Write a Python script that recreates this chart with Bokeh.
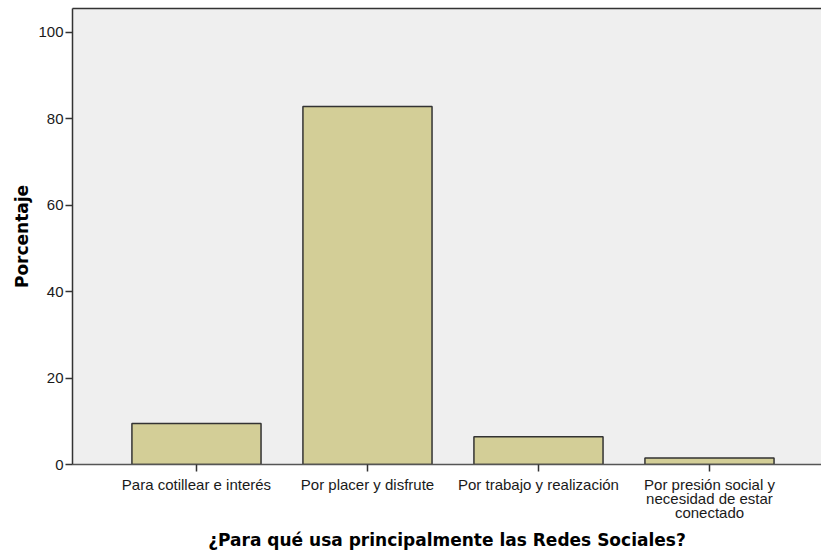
import numpy as np
from bokeh.plotting import figure
from bokeh.models import Range1d, FixedTicker, ColumnDataSource, LinearAxis
from bokeh.embed import file_html
from bokeh.resources import INLINE

categories = ["Para cotillear e interés", "Por placer y disfrute",
              "Por trabajo y realización",
              "Por presión social y\nnecesidad de estar\nconectado"]
porcentaje = [9.5, 82.8, 6.4, 1.5]
y_ticks = [0, 20, 40, 60, 80, 100]

x_pos = list(range(len(categories)))
src = ColumnDataSource(dict(x=x_pos, top=porcentaje))

p = figure(width=821, height=554, output_backend="svg", toolbar_location=None,
           x_range=Range1d(-0.725, 3.655), y_range=Range1d(0, 105.5),
           min_border_left=72, min_border_right=0, min_border_top=8,
           min_border_bottom=90)

p.vbar(x="x", top="top", width=0.755, source=src, fill_color="#d3ce97",
       line_color="#333333", line_width=1.5)

p.background_fill_color = "#efefef"
p.border_fill_color = "white"
p.outline_line_color = None
p.xgrid.visible = False
p.ygrid.visible = False

bottom = p.below[0]
left = p.left[0]

left.ticker = FixedTicker(ticks=y_ticks)
bottom.ticker = FixedTicker(ticks=x_pos)
bottom.major_label_overrides = {i: c for i, c in enumerate(categories)}

for ax in (bottom, left):
    ax.axis_line_color = "#555555"
    ax.axis_line_width = 1.5
    ax.major_tick_line_color = "#333333"
    ax.major_tick_line_width = 1.5
    ax.major_tick_out = 7
    ax.major_tick_in = 0
    ax.minor_tick_line_color = None
    ax.major_label_text_font = "Liberation Sans"
    ax.major_label_text_font_size = "15px"
    ax.major_label_text_color = "#1a1a1a"
    ax.major_label_text_line_height = 0.85
    ax.axis_label_text_font = "DejaVu Sans"
    ax.axis_label_text_font_style = "bold"
    ax.axis_label_text_font_size = "17px"
    ax.axis_label_text_color = "black"

left.axis_line_color = "#333333"
left.major_label_standoff = 2
bottom.major_label_standoff = 4
left.axis_label = "Porcentaje"
left.axis_label_standoff = 3
bottom.axis_label = "¿Para qué usa principalmente las Redes Sociales?"
bottom.axis_label_standoff = 6

top_axis = LinearAxis(ticker=FixedTicker(ticks=[]), axis_line_color="#333333",
                      axis_line_width=1.5, major_tick_line_color=None,
                      minor_tick_line_color=None,
                      major_label_text_font_size="0px")
p.add_layout(top_axis, "above")

open("out.html", "w").write(file_html(p, INLINE))
